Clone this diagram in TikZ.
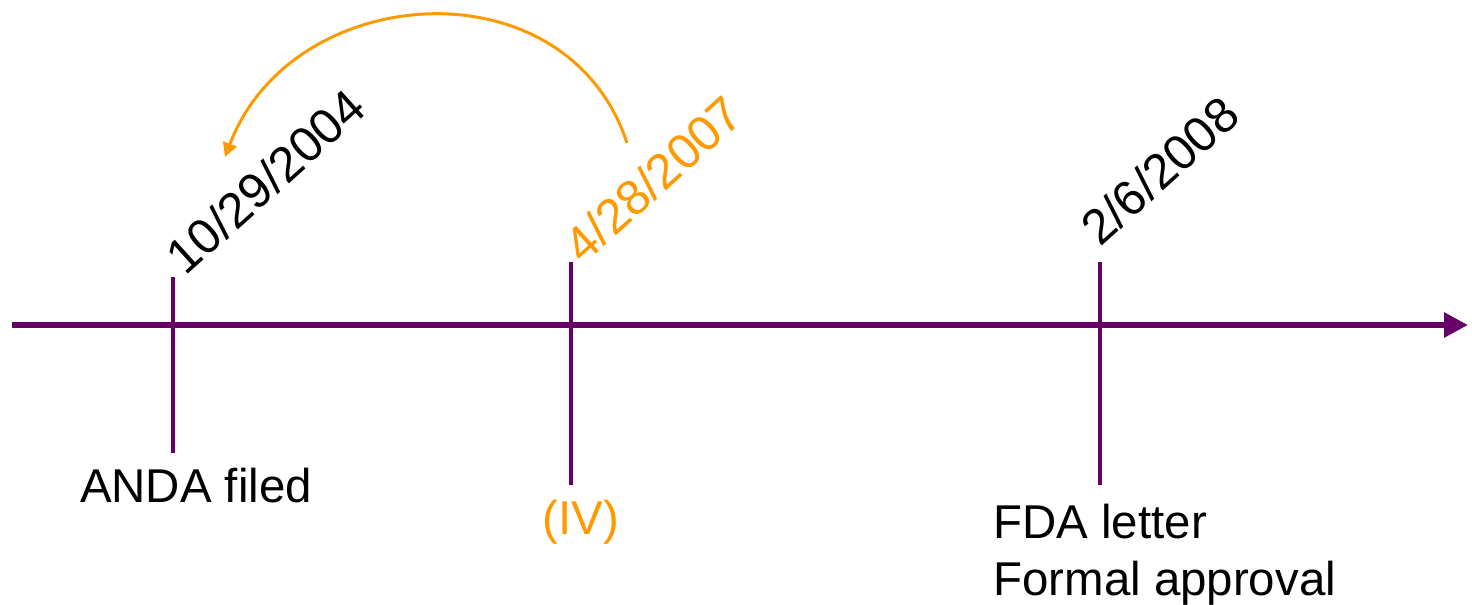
\documentclass[tikz,border=0pt]{standalone}
\usepackage{fontspec}
\setmainfont{Liberation Sans}
\usetikzlibrary{positioning, arrows.meta}

\definecolor{plum}{HTML}{660066}
\definecolor{amber}{HTML}{FF9900}

\begin{document}
\begin{tikzpicture}[
    x=0.02cm, y=0.02cm,
    axisline/.style={draw=plum, line width=3.4pt, -{Triangle[length=0.48cm, width=0.48cm]}},
    tickline/.style={draw=plum, line width=2.2pt},
    datelabel/.style={font=\fontsize{28}{32}\selectfont, rotate=42, anchor=base west, inner sep=0pt},
    eventlabel/.style={font=\fontsize{27}{32.4}\selectfont, inner sep=0pt, align=left},
    jump/.style={draw=amber, line width=1.7pt, -{Triangle[length=0.28cm, width=0.28cm]}}
]
    \useasboundingbox (0,0) rectangle (1472,605);

    % time axis
    \coordinate (start) at (12,280);
    \coordinate (end)   at (1468,280);
    \draw[axisline] (start) -- (end);

    % ticks
    \coordinate (t1top) at (173,328);  \coordinate (t1bot) at (173,152);
    \coordinate (t2top) at (571,343);  \coordinate (t2bot) at (571,120);
    \coordinate (t3top) at (1100,343); \coordinate (t3bot) at (1100,120);
    \draw[tickline] (t1top) -- (t1bot);
    \draw[tickline] (t2top) -- (t2bot);
    \draw[tickline] (t3top) -- (t3bot);

    % dates
    \node[datelabel]              (d1) at ([xshift=7pt]t1top) {10/29/2004};
    \node[datelabel, text=amber]  (d2) at ([xshift=7pt, yshift=-2pt]t2top) {4/28/2007};
    \node[datelabel]              (d3) at ([xshift=0pt, yshift=8pt]t3top) {2/6/2008};

    % events
    \node[eventlabel, anchor=base]            (e1) at (196,102) {ANDA filed};
    \node[eventlabel, anchor=base, text=amber] (e2) at (581,70)  {(IV)};
    \node[eventlabel, anchor=north west]      (e3) at (993,101) {FDA letter\\Formal approval};

    % backdating arc
    \coordinate (from) at (627,462);
    \coordinate (to)   at (225,448);
    \draw[jump] (from) .. controls (567,644) and (292,625) .. (to);
\end{tikzpicture}
\end{document}
